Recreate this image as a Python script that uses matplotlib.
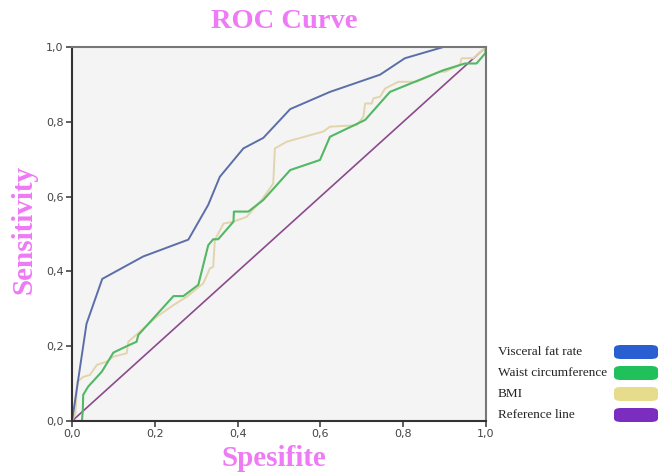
import numpy as np
import matplotlib.pyplot as plt
from matplotlib.patches import FancyBboxPatch

# ROC points (1 - specificity, sensitivity)
visceral_x = [0.0, 0.035, 0.073, 0.172, 0.281, 0.329, 0.357, 0.414, 0.462, 0.527, 0.623, 0.744, 0.804, 0.897, 1.0]
visceral_y = [0.0, 0.26, 0.38, 0.44, 0.485, 0.578, 0.653, 0.729, 0.757, 0.834, 0.88, 0.926, 0.97, 1.0, 1.0]

waist_x = [0.0, 0.024, 0.026, 0.027, 0.039, 0.072, 0.1, 0.132, 0.156, 0.16, 0.245, 0.269, 0.305,
           0.329, 0.341, 0.353, 0.39, 0.391, 0.426, 0.462, 0.527, 0.599, 0.623, 0.708, 0.768,
           0.897, 0.949, 0.977, 0.998, 1.0]
waist_y = [0.0, 0.0, 0.03, 0.07, 0.092, 0.132, 0.183, 0.2, 0.212, 0.23, 0.334, 0.334, 0.364,
           0.47, 0.486, 0.486, 0.533, 0.56, 0.56, 0.591, 0.671, 0.698, 0.76, 0.805, 0.88,
           0.938, 0.956, 0.956, 0.983, 1.0]

bmi_x = [0.0, 0.008, 0.013, 0.027, 0.043, 0.06, 0.084, 0.1, 0.132, 0.136, 0.164, 0.205, 0.245,
         0.277, 0.317, 0.333, 0.341, 0.345, 0.366, 0.39, 0.422, 0.458, 0.486, 0.49, 0.519,
         0.607, 0.623, 0.688, 0.704, 0.708, 0.724, 0.728, 0.744, 0.756, 0.788, 0.832, 0.889,
         0.901, 0.937, 0.941, 0.969, 1.0]
bmi_y = [0.0, 0.02, 0.105, 0.118, 0.123, 0.15, 0.159, 0.172, 0.181, 0.212, 0.239, 0.279, 0.31,
         0.332, 0.368, 0.408, 0.412, 0.484, 0.528, 0.533, 0.546, 0.591, 0.635, 0.729, 0.747,
         0.774, 0.787, 0.791, 0.814, 0.849, 0.849, 0.863, 0.867, 0.889, 0.907, 0.907, 0.934,
         0.934, 0.952, 0.97, 0.97, 1.0]

ref_x = [0.0, 1.0]
ref_y = [0.0, 1.0]

labels = ['Visceral fat rate', 'Waist circumference', 'BMI', 'Reference line']
line_colors = ['#5b6ea8', '#52b864', '#e2d5ad', '#8b4a8c']
patch_colors = ['#2a5fd2', '#20c05a', '#e6dc8c', '#7b2dc0']
ticks = [0.0, 0.2, 0.4, 0.6, 0.8, 1.0]

fig = plt.figure(figsize=(6.59, 4.74), dpi=100)
ax = fig.add_axes([0.1093, 0.1118, 0.6282, 0.789])
ax.set_facecolor('#f4f4f4')

ax.plot(ref_x, ref_y, color=line_colors[3], lw=1.2)
ax.plot(bmi_x, bmi_y, color=line_colors[2], lw=1.4)
ax.plot(waist_x, waist_y, color=line_colors[1], lw=1.5)
ax.plot(visceral_x, visceral_y, color=line_colors[0], lw=1.4)

ax.set_xlim(0, 1)
ax.set_ylim(0, 1)
ax.set_xticks(ticks)
ax.set_yticks(ticks)
tick_text = [f'{t:.1f}'.replace('.', ',') for t in ticks]
ax.set_xticklabels(tick_text)
ax.set_yticklabels(tick_text)
ax.tick_params(direction='out', length=4, width=1.2, colors='#444444', labelsize=8, pad=2)
for s in ['left', 'bottom']:
    ax.spines[s].set_color('#333333')
    ax.spines[s].set_linewidth(1.5)
for s in ['top', 'right']:
    ax.spines[s].set_color('#777777')
    ax.spines[s].set_linewidth(1.5)

serif = 'Liberation Serif'
pink = '#ee7af5'
fig.text(0.432, 0.955, 'ROC Curve', ha='center', va='center', fontsize=20.5,
         fontweight='bold', color=pink, family=serif)
fig.text(0.415, 0.032, 'Spesifite', ha='center', va='center', fontsize=21,
         fontweight='bold', color=pink, family=serif)
fig.text(0.036, 0.515, 'Sensitivity', ha='center', va='center', fontsize=21,
         fontweight='bold', color=pink, family=serif, rotation=90)

# legend drawn by hand: text on the left, rounded colour pill on the right
legend_y = [352, 373, 394, 415]
for lab, col, py in zip(labels, patch_colors, legend_y):
    yf = 1 - py / 474
    fig.text(498 / 659, yf, lab, ha='left', va='center', fontsize=9.5,
             color='#222222', family=serif)
    w = 44 / 659
    h = 14 / 474
    pill = FancyBboxPatch((614 / 659, yf - h / 2), w, h,
                          boxstyle='round,pad=0,rounding_size=0.0106',
                          transform=fig.transFigure, facecolor=col,
                          edgecolor='none', mutation_aspect=474 / 659)
    fig.patches.append(pill)

fig.savefig('out.png', dpi=100)
